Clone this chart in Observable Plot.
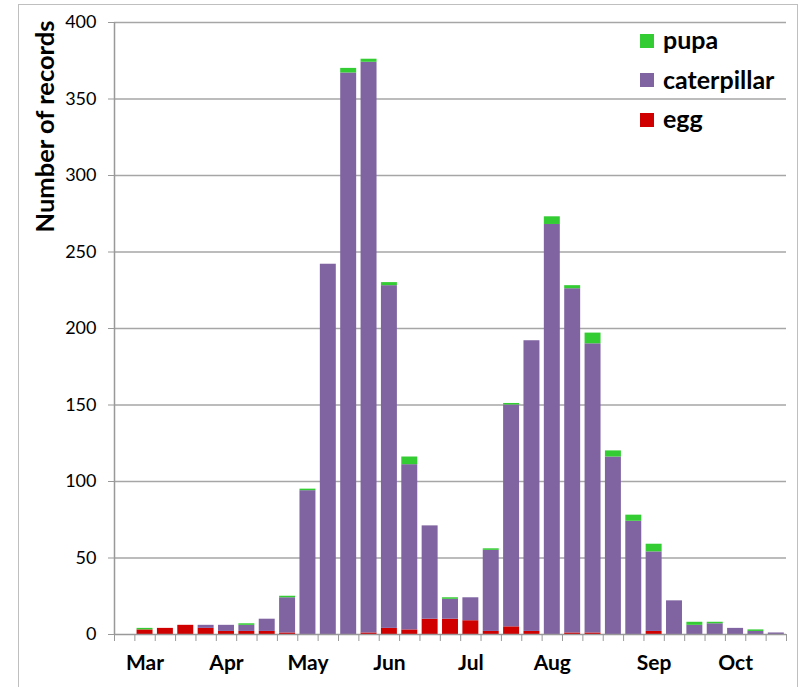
<!DOCTYPE html>
<html><head><meta charset="utf-8">
<script src="https://cdn.jsdelivr.net/npm/d3@7"></script>
<script src="https://cdn.jsdelivr.net/npm/@observablehq/plot@0.6"></script>
<style>
body{margin:0;background:#fff;}
#wrap{position:relative;width:803px;height:687px;font-family:Lato,"Open Sans",sans-serif;overflow:hidden;}
#frame{position:absolute;left:18px;top:4px;width:780px;height:720px;border:1px solid #bfbfbf;box-sizing:border-box;pointer-events:none;}
#legend{position:absolute;left:640px;top:21px;}
#legend .row{display:flex;align-items:center;height:39.5px;}
#legend .sw{width:14px;height:14px;margin-right:9px;}
#legend .lab{font-weight:bold;font-size:25px;color:#000;line-height:1;position:relative;top:-1px;}
</style></head>
<body>
<div id="wrap"><div id="frame"></div><div id="chart"></div><div id="legend"></div></div>
<script>
// weekly slots, Mar → Oct (slot 0 is empty)
const egg         = [0,3,4,6,4,2,2,2,1,0,0,0,1,4,3,10,10,9,2,5,2,0,1,1,0,0,2,0,0,0,0,0,0];
const caterpillar = [0,0,0,0,2,4,4,8,23,94,242,367,373,224,108,61,13,15,53,145,190,268,225,189,116,74,52,22,6,7,4,2,1];
const pupa        = [0,1,0,0,0,0,1,0,1,1,0,3,2,2,5,0,1,0,1,1,0,5,2,7,4,4,5,0,2,1,0,1,0];
const monthNames  = ["Mar","Apr","May","Jun","Jul","Aug","Sep","Oct"];
const monthWeek   = [1,5,9,13,17,21,26,30];
const yTicks      = [0,50,100,150,200,250,300,350,400];
const stages      = ["egg","caterpillar","pupa"];
const colors      = ["#d00000","#8064a2","#33cc33"];
const legendOrder = ["pupa","caterpillar","egg"];

const series = {egg, caterpillar, pupa};
const weekIndex = egg.map((_, i) => i);
const boundaries = [...weekIndex, egg.length];
const rows = stages.flatMap(s => series[s].map((v, i) => ({week: i, stage: s, value: v})));

const chart = Plot.plot({
  width: 803, height: 687,
  marginLeft: 114, marginRight: 17, marginTop: 22, marginBottom: 53,
  style: {fontFamily: "Lato, 'Open Sans', sans-serif", fontSize: "18px", color: "#000", background: "transparent"},
  x: {domain: [0, egg.length], axis: null},
  y: {domain: [0, 400], axis: null},
  color: {domain: stages, range: colors},
  marks: [
    Plot.gridY(yTicks.filter(t => t > 0), {stroke: "#a6a6a6", strokeOpacity: 1, strokeWidth: 1.5}),
    Plot.axisY(yTicks, {tickSize: 6, tickPadding: 12, stroke: "#999", fontSize: 18, label: null}),
    Plot.axisX(boundaries, {tickSize: 7, tickFormat: () => "", stroke: "#999", label: null}),
    Plot.axisX(monthWeek.map(i => i + 0.5), {tickSize: 0, tickPadding: 21, tickFormat: d => monthNames[monthWeek.indexOf(d - 0.5)], fontWeight: "bold", fontSize: 21, label: null}),
    Plot.rectY(rows, Plot.stackY({x1: "week", x2: d => d.week + 1, y: "value", fill: "stage", order: stages, insetLeft: 2.2, insetRight: 2.2})),
    Plot.ruleX([0], {stroke: "#999", strokeWidth: 1.5}),
    Plot.ruleY([0], {stroke: "#999", strokeWidth: 1.5}),
    Plot.text(["Number of records"], {frameAnchor: "top-left", rotate: -90, dx: -69, dy: 104, textAnchor: "middle", lineAnchor: "middle", fontWeight: "bold", fontSize: 25.5, fill: "#000"})
  ]
});
document.getElementById("chart").appendChild(chart);

const legend = document.getElementById("legend");
for (const s of legendOrder) {
  const row = document.createElement("div");
  row.className = "row";
  const sw = document.createElement("div");
  sw.className = "sw";
  sw.style.background = colors[stages.indexOf(s)];
  const lab = document.createElement("span");
  lab.className = "lab";
  lab.textContent = s;
  row.appendChild(sw); row.appendChild(lab);
  legend.appendChild(row);
}
</script>
</body></html>
